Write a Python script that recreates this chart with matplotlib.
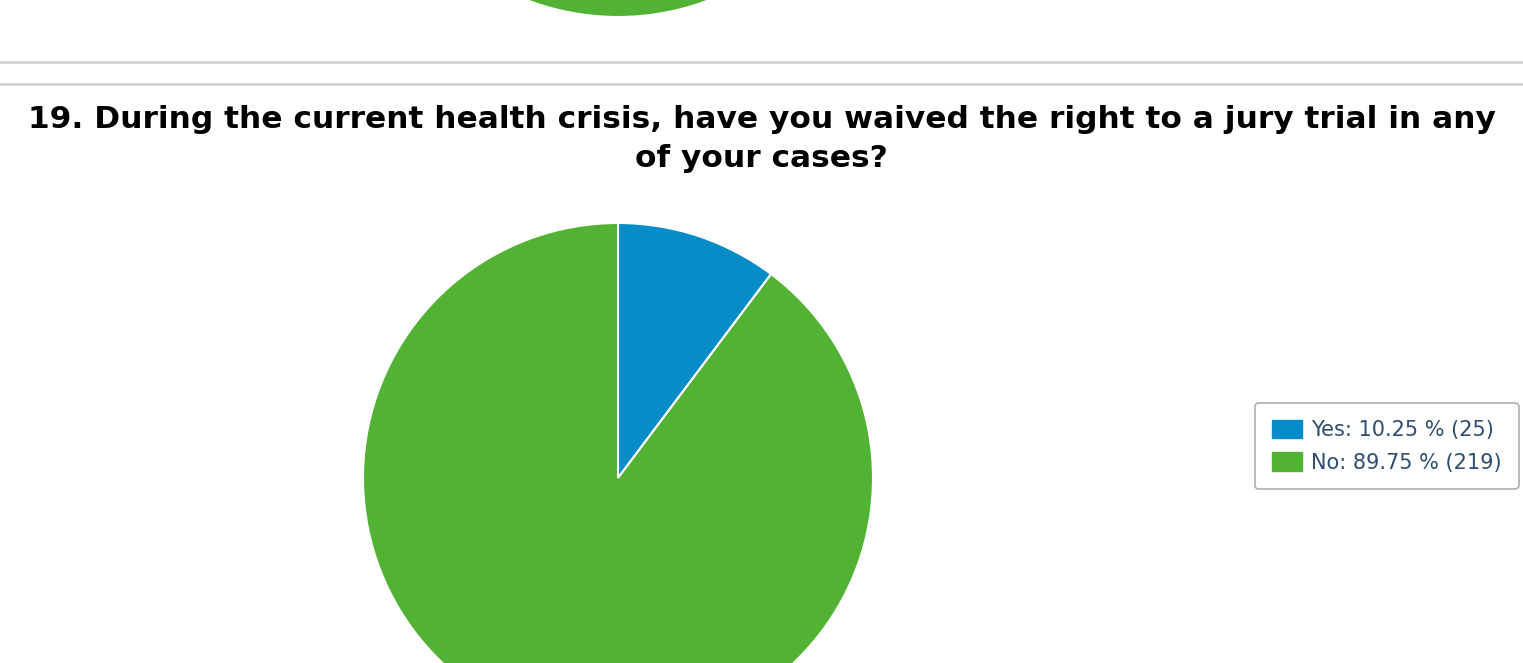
import matplotlib.pyplot as plt
from matplotlib.lines import Line2D
from matplotlib.patches import Patch

labels = ["Yes", "No"]
percents = [10.25, 89.75]
counts = [25, 219]
colors = ["#068dc8", "#52b233"]

title = ("19. During the current health crisis, have you waived the right to a jury trial in any\n"
         "of your cases?")

W, H = 1523, 663
fig = plt.figure(figsize=(W / 100, H / 100), dpi=100)

def px_axes(x0, y0, w, h):
    # axes positioned with pixel coordinates measured from the top-left
    return fig.add_axes([x0 / W, (H - y0 - h) / H, w / W, h / H])

# bottom of the previous question's pie, cut by the top edge
ax0 = px_axes(363, -493, 510, 510)
ax0.pie([1], colors=[colors[1]], startangle=90, counterclock=False,
        wedgeprops=dict(edgecolor="white", linewidth=1.5))
ax0.set_xlim(-1, 1)
ax0.set_ylim(-1, 1)
ax0.axis("off")

# separators
for y in (61.5, 83.5):
    fig.add_artist(Line2D([0, 1], [1 - y / H, 1 - y / H], color="#d4d4d4", lw=2))

fig.text(0.5, 1 - 139 / H, title, ha="center", va="center", fontsize=22.5,
         fontweight="bold", color="black", linespacing=1.4)

ax = px_axes(363, 223, 510, 510)
wedges, _ = ax.pie(percents, colors=colors, startangle=90, counterclock=False,
                   wedgeprops=dict(edgecolor="white", linewidth=1.5))
ax.set_xlim(-1, 1)
ax.set_ylim(-1, 1)
ax.axis("off")

leg_labels = [f"{l}: {p:.2f} % ({c})" for l, p, c in zip(labels, percents, counts)]
handles = [Patch(facecolor=c, edgecolor=c) for c in colors]
leg = fig.legend(handles, leg_labels, loc="upper left",
                 bbox_to_anchor=(1255 / W, 1 - 403 / H), borderaxespad=0,
                 fontsize=15, labelcolor="#2f4d70", frameon=True, fancybox=True,
                 edgecolor="#999999", handlelength=1.45, handleheight=1.0,
                 borderpad=0.8, labelspacing=0.58, handletextpad=0.45)
leg.get_frame().set_linewidth(1.2)

fig.savefig("out.png", dpi=100)
